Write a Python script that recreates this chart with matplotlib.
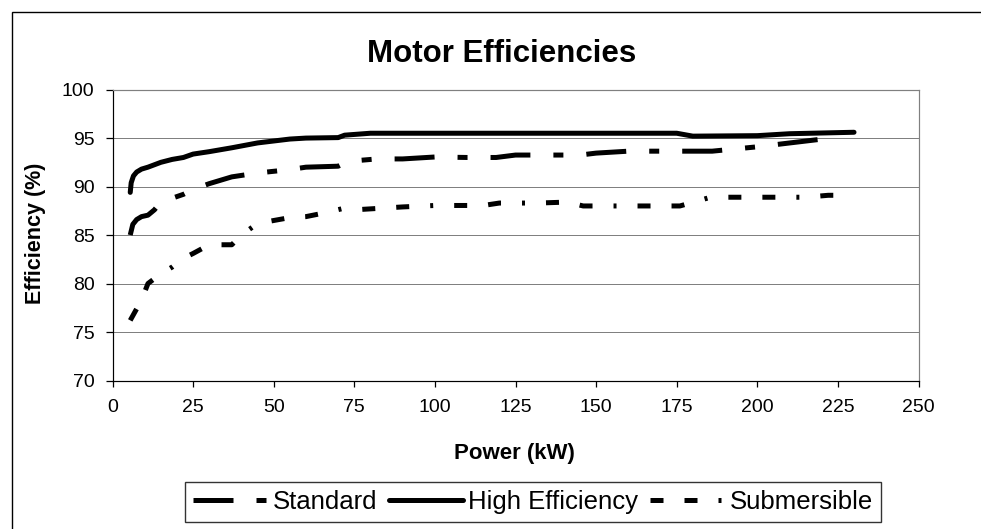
import matplotlib.pyplot as plt
from matplotlib.patches import Rectangle

plt.rcParams['font.family'] = ['Liberation Sans', 'DejaVu Sans']
plt.rcParams['lines.scale_dashes'] = False

# power ratings (kW) and efficiencies (%)
std_kw = [5.5, 6.3, 7.5, 9, 11, 13, 15, 18.5, 22, 25, 30, 37, 45, 55, 60, 70, 73,
          82, 90, 100, 110, 119, 125, 145, 150, 160, 186, 200, 224]
std_eff = [85.0, 86.1, 86.6, 86.9, 87.05, 87.6, 88.4, 88.8, 89.2, 89.7, 90.3, 91.0,
           91.4, 91.75, 92.0, 92.1, 92.6, 92.85, 92.85, 93.05, 93.0, 93.0, 93.25,
           93.25, 93.45, 93.65, 93.65, 94.1, 95.05]

he_kw = [5.5, 5.8, 6.5, 7.5, 9, 11, 15, 18.5, 22, 25, 30, 37, 45, 55, 60, 70, 72,
         80, 90, 110, 132, 150, 160, 175, 180, 200, 210, 230]
he_eff = [89.4, 90.4, 91.1, 91.5, 91.8, 92.0, 92.5, 92.8, 93.0, 93.35, 93.6, 94.0,
          94.5, 94.9, 95.0, 95.05, 95.3, 95.5, 95.5, 95.5, 95.5, 95.5, 95.5, 95.5,
          95.2, 95.25, 95.45, 95.6]

sub_kw = [5.5, 7.5, 9, 11, 13, 15, 18.5, 22, 25, 30, 37, 40, 45, 50, 55, 60, 66,
          71, 75, 80, 90, 100, 115, 120, 132, 141, 146, 160, 176, 185, 190, 215,
          222, 225]
sub_eff = [76.2, 77.4, 78.3, 80.0, 80.5, 81.0, 81.7, 82.6, 83.1, 84.0, 84.0, 85.0,
           86.2, 86.5, 86.8, 86.9, 87.3, 87.7, 87.6, 87.7, 87.9, 88.05, 88.05, 88.3,
           88.3, 88.4, 88.0, 88.0, 88.0, 88.85, 88.9, 88.9, 89.1, 89.1]

x_ticks = list(range(0, 251, 25))
y_ticks = list(range(70, 101, 5))

px = 0.72  # points per pixel at 100 dpi
std_dash = (0, (40 * px, 23 * px, 10 * px, 23 * px))
sub_dash = (0, (13 * px, 21 * px, 13 * px, 21 * px, 3 * px, 21 * px))

fig = plt.figure(figsize=(9.81, 5.29), dpi=100)
fig.patches.append(Rectangle((11.5 / 981, -0.1), 2, 1.1 - 12 / 529,
                             transform=fig.transFigure, fill=False,
                             edgecolor='black', linewidth=1.0))

ax = fig.add_axes([112.5 / 981, 1 - 380.5 / 529, 806 / 981, 290.9 / 529])

lw = 5 * px
ax.plot(std_kw, std_eff, color='black', lw=lw, linestyle=std_dash,
        dash_capstyle='butt', label='Standard')
ax.plot(he_kw, he_eff, color='black', lw=lw, solid_capstyle='round',
        solid_joinstyle='round', label='High Efficiency')
ax.plot(sub_kw, sub_eff, color='black', lw=lw, linestyle=sub_dash,
        dash_capstyle='butt', label='Submersible')

ax.set_xlim(0, 250)
ax.set_ylim(70, 100)
ax.set_xticks(x_ticks)
ax.set_yticks(y_ticks)
for y in y_ticks[1:-1]:
    ax.axhline(y, color='#808080', lw=1 * px, zorder=0)

ax.spines['top'].set_color('#808080')
ax.spines['right'].set_color('#808080')
for s in ['left', 'bottom']:
    ax.spines[s].set_color('black')
for s in ax.spines.values():
    s.set_linewidth(1.2 * px)

ax.tick_params(axis='x', direction='out', length=4.5, width=0.9, pad=9, labelsize=14)
ax.tick_params(axis='y', direction='out', length=5, width=0.9, pad=8, labelsize=14)

fig.text(502 / 981, 1 - 62 / 529, 'Motor Efficiencies', ha='center', va='baseline',
         fontsize=22.5, fontweight='bold')
fig.text(514 / 981, 1 - 454 / 529, 'Power (kW)', ha='center', va='center',
         fontsize=16, fontweight='bold')
fig.text(35 / 981, 1 - 233 / 529, 'Efficiency (%)', ha='center', va='center',
         rotation=90, fontsize=15.5, fontweight='bold')

leg = ax.legend(loc='center', bbox_to_anchor=(533 / 981, 1 - 502 / 529),
                bbox_transform=fig.transFigure, ncol=3, fontsize=18.5,
                frameon=True, fancybox=False, shadow=False, edgecolor='black',
                handlelength=2.9, handletextpad=0.2, columnspacing=0.45,
                borderpad=0.3, borderaxespad=0)
leg.get_frame().set_linewidth(1.0)

fig.savefig('out.png', dpi=100)
